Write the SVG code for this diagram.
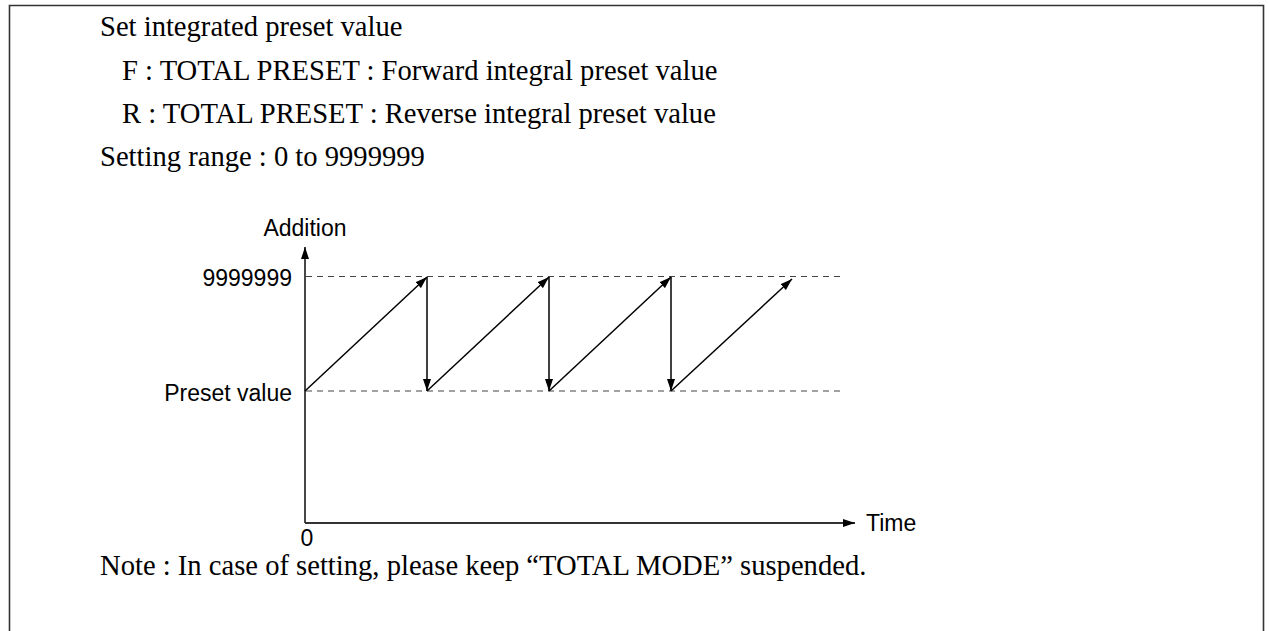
<svg xmlns="http://www.w3.org/2000/svg" width="1269" height="631" viewBox="0 0 1269 631">
<style>
.serif{font-family:"Liberation Serif","Times New Roman",serif;font-size:28.6px;fill:#000}
.sans{font-family:"Liberation Sans",Arial,sans-serif;font-size:23px;fill:#000}
.dash{stroke:#444;stroke-width:1.2;stroke-dasharray:6 5;fill:none}
.ln{stroke:#000;stroke-width:1.5;fill:none}
.axis{stroke:#333;stroke-width:1.8;fill:none}
</style>
<defs>
<marker id="ah" viewBox="0 0 12 8" refX="12" refY="4" markerWidth="12" markerHeight="8" markerUnits="userSpaceOnUse" orient="auto">
<path d="M0,0 L12,4 L0,8 Z" fill="#000"/>
</marker>
</defs>
<rect width="1269" height="631" fill="#fff"/>
<path id="frame" d="M9.5,631 V5.5 H1263.5 V631" fill="none" stroke="#333" stroke-width="1.6"/>
<g id="texts">
<text class="serif" x="100" y="36">Set integrated preset value</text>
<text class="serif" x="122" y="80">F : TOTAL PRESET : Forward integral preset value</text>
<text class="serif" x="122" y="123">R : TOTAL PRESET : Reverse integral preset value</text>
<text class="serif" x="100" y="166">Setting range : 0 to 9999999</text>
<text class="serif" x="100" y="575">Note : In case of setting, please keep “TOTAL MODE” suspended.</text>
</g>
<g id="labels">
<text class="sans" x="305" y="236" text-anchor="middle">Addition</text>
<text class="sans" x="292" y="286" text-anchor="end">9999999</text>
<text class="sans" x="292" y="401" text-anchor="end">Preset value</text>
<text class="sans" x="307" y="546" text-anchor="middle">0</text>
<text class="sans" x="866" y="531">Time</text>
</g>
<g id="gridlines">
<line class="dash" x1="306" y1="276.5" x2="843" y2="276.5"/>
<line class="dash" x1="306" y1="391" x2="843" y2="391"/>
</g>
<g id="axes">
<line class="axis" x1="305" y1="523" x2="305" y2="247" marker-end="url(#ah)"/>
<line class="axis" x1="305" y1="523" x2="855" y2="523" marker-end="url(#ah)"/>
</g>
<g id="connectors">
<line class="ln" x1="305" y1="391" x2="427" y2="277" marker-end="url(#ah)"/>
<line class="ln" x1="427" y1="277" x2="427" y2="391" marker-end="url(#ah)"/>
<line class="ln" x1="427" y1="391" x2="549" y2="277" marker-end="url(#ah)"/>
<line class="ln" x1="549" y1="277" x2="549" y2="391" marker-end="url(#ah)"/>
<line class="ln" x1="549" y1="391" x2="671" y2="277" marker-end="url(#ah)"/>
<line class="ln" x1="671" y1="277" x2="671" y2="391" marker-end="url(#ah)"/>
<line class="ln" x1="671" y1="391" x2="792" y2="279" marker-end="url(#ah)"/>
</g>
</svg>
